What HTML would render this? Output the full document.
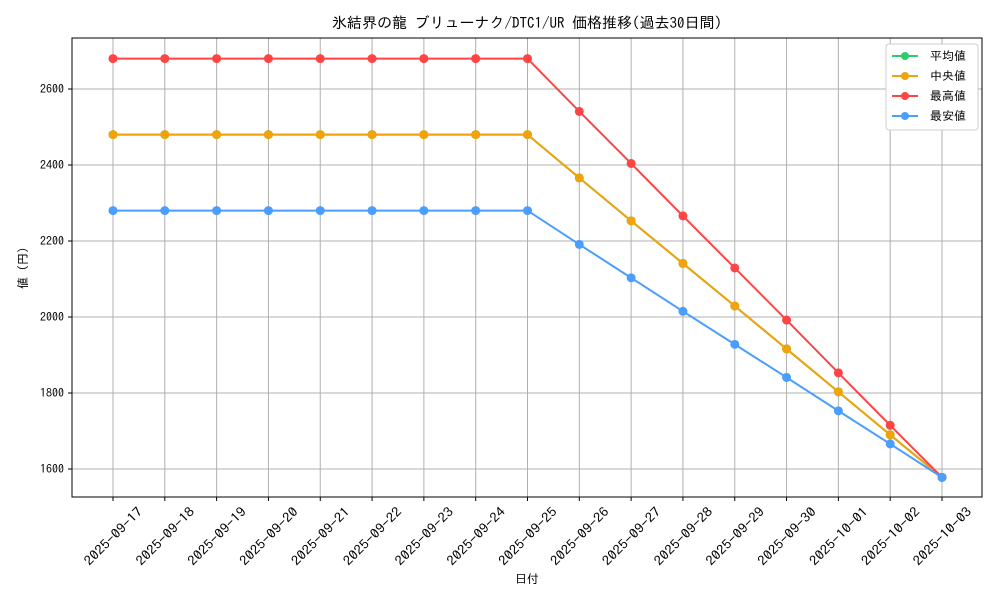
<!DOCTYPE html>
<html><head><meta charset="utf-8"><style>
body{margin:0;background:#fff}
svg{display:block;font-family:"IPAGothic","Noto Sans CJK JP",monospace}
</style></head><body>
<svg width="1000" height="600" viewBox="0 0 1000 600" xmlns="http://www.w3.org/2000/svg">
<rect width="1000" height="600" fill="#fff"/>
<text x="527" y="28" font-size="15" text-anchor="middle">氷結界の龍 ブリューナク/DTC1/UR 価格推移(過去30日間)</text>
<g id="grid" stroke="#b0b0b0" stroke-width="1"></g>
<rect x="72" y="38" width="910" height="459" fill="none" stroke="#000" stroke-width="1"/>
<g id="ticks" font-size="12"></g>
<text x="527" y="583" font-size="12" text-anchor="middle">日付</text>
<text transform="translate(27,268) rotate(-90)" font-size="12" text-anchor="middle">値 (円)</text>
<g id="series"></g>
<g font-size="12">
<rect x="886" y="44" width="92" height="86" fill="#fff" stroke="#ccc" rx="3"/>
<line x1="892" y1="56" x2="918" y2="56" stroke="#2ecc71" stroke-width="2"/><circle cx="905" cy="56" r="4" fill="#2ecc71"/><text x="930" y="60">平均値</text>
<line x1="892" y1="76" x2="918" y2="76" stroke="#f0a30a" stroke-width="2"/><circle cx="905" cy="76" r="4" fill="#f0a30a"/><text x="930" y="80"> 中央値</text>
<line x1="892" y1="96" x2="918" y2="96" stroke="#ff4444" stroke-width="2"/><circle cx="905" cy="96" r="4" fill="#ff4444"/><text x="930" y="100">最高値</text>
<line x1="892" y1="116" x2="918" y2="116" stroke="#4a9eff" stroke-width="2"/><circle cx="905" cy="116" r="4" fill="#4a9eff"/><text x="930" y="120">最安値</text>
</g>
</svg>
<script>
const NS="http://www.w3.org/2000/svg";
function el(p,t,a,txt){const e=document.createElementNS(NS,t);for(const k in a)e.setAttribute(k,a[k]);if(txt)e.textContent=txt;document.getElementById(p).appendChild(e);}
const X=i=>113+i*51.8125, Y=v=>469-(v-1600)*0.38;
const dates=["09-17","09-18","09-19","09-20","09-21","09-22","09-23","09-24","09-25","09-26","09-27","09-28","09-29","09-30","10-01","10-02","10-03"];
dates.forEach((d,i)=>{const x=X(i);
el("grid","line",{x1:x,y1:38,x2:x,y2:497});
el("ticks","line",{x1:x,y1:497,x2:x,y2:501,stroke:"#000"});
el("ticks","text",{x:0,y:5,"font-size":13,"text-anchor":"middle",textLength:76,lengthAdjust:"spacingAndGlyphs",transform:`translate(${x},536) rotate(-45)`},"2025-"+d);});
[1600,1800,2000,2200,2400,2600].forEach(v=>{const y=Y(v);
el("grid","line",{x1:72,y1:y,x2:982,y2:y});
el("ticks","line",{x1:68,y1:y,x2:72,y2:y,stroke:"#000"});
el("ticks","text",{x:64,y:y+4,"text-anchor":"end"},v);});
const flat=(a,n)=>Array(n).fill(a);
const mx=flat(2680,9).concat([2541,2404,2266,2129,1992,1853,1715,1578]);
const md=flat(2480,9).concat([2366,2253,2141,2029,1916,1803,1690,1578]);
const mn=flat(2280,9).concat([2191,2103,2015,1928,1841,1753,1666,1578]);
function draw(d,c){el("series","polyline",{points:d.map((v,i)=>X(i)+","+Y(v)).join(" "),fill:"none",stroke:c,"stroke-width":2});
d.forEach((v,i)=>el("series","circle",{cx:X(i),cy:Y(v),r:4.5,fill:c}));}
draw(md,"#2ecc71");draw(md,"#f0a30a");draw(mx,"#ff4444");draw(mn,"#4a9eff");
</script>
</body></html>
